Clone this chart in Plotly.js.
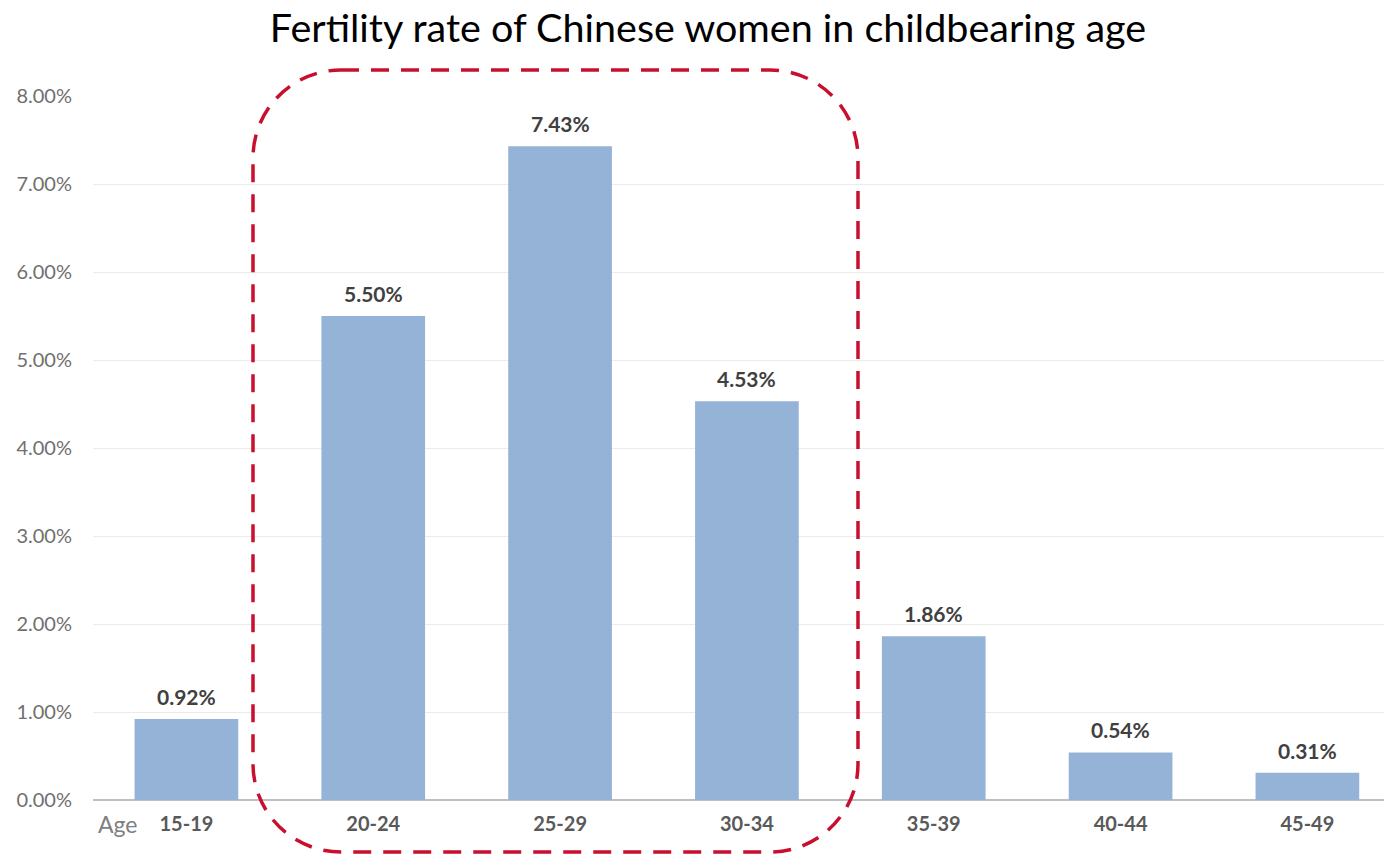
<!DOCTYPE html>
<html>
<head>
<meta charset="utf-8">
<script src="https://cdn.plot.ly/plotly-3.0.1.min.js"></script>
<style>html,body{margin:0;padding:0;background:#fff;}#chart{width:1384px;height:855px;}</style>
</head>
<body>
<div id="chart"></div>
<script>
const categories = ["15-19", "20-24", "25-29", "30-34", "35-39", "40-44", "45-49"];
const rates = [0.92, 5.50, 7.43, 4.53, 1.86, 0.54, 0.31];
const rateLabels = ["0.92%", "5.50%", "7.43%", "4.53%", "1.86%", "0.54%", "0.31%"];
const yTickVals = [0, 1, 2, 3, 4, 5, 6, 7, 8];
const yTickText = ["0.00%", "1.00%", "2.00%", "3.00%", "4.00%", "5.00%", "6.00%", "7.00%", "8.00%"];
const titleText = "Fertility rate of Chinese women in childbearing age";
const axisNote = "Age";

const W = 1384, H = 855;
const mL = 93, mR = 0, mT = 96, mB = 55;
const plotW = W - mL - mR, plotH = H - mT - mB;
const px2x = p => (p - mL) / plotW;
const px2y = p => (H - mB - p) / plotH;

// rounded dashed frame (pixel geometry converted to paper units)
function roundedRect(x0, y0, x1, y1, r) {
  const k = 0.5523 * r;
  const P = (x, y) => px2x(x).toFixed(5) + "," + px2y(y).toFixed(5);
  return "M" + P(x0 + r, y0) +
    " L" + P(x1 - r, y0) +
    " C" + P(x1 - r + k, y0) + " " + P(x1, y0 + r - k) + " " + P(x1, y0 + r) +
    " L" + P(x1, y1 - r) +
    " C" + P(x1, y1 - r + k) + " " + P(x1 - r + k, y1) + " " + P(x1 - r, y1) +
    " L" + P(x0 + r, y1) +
    " C" + P(x0 + r - k, y1) + " " + P(x0, y1 - r + k) + " " + P(x0, y1 - r) +
    " L" + P(x0, y0 + r) +
    " C" + P(x0, y0 + r - k) + " " + P(x0 + r - k, y0) + " " + P(x0 + r, y0) + " Z";
}

const font = "Lato, 'Open Sans', sans-serif";

const trace = {
  type: "bar",
  x: categories,
  y: rates,
  marker: {color: "#95B3D7", line: {width: 0}},
  width: 0.555,
  hoverinfo: "x+y"
};

const labelAnns = categories.map((c, i) => ({
  x: c, y: rates[i], xref: "x", yref: "y",
  text: "<b>" + rateLabels[i] + "</b>",
  showarrow: false, yanchor: "bottom", yshift: 8,
  font: {family: font, size: 21, color: "#404040"}
}));

const layout = {
  width: W, height: H,
  margin: {l: mL, r: mR, t: mT, b: mB, pad: 0},
  paper_bgcolor: "#ffffff",
  plot_bgcolor: "#ffffff",
  showlegend: false,
  title: {
    text: titleText,
    font: {family: font, size: 39.5, color: "#000000"},
    x: 708 / W, xref: "container", xanchor: "center",
    y: 1 - 28 / H, yref: "container", yanchor: "middle"
  },
  xaxis: {
    type: "category",
    range: [-0.5, 6.41],
    showgrid: false,
    zeroline: false,
    showline: false,
    ticks: "",
    tickfont: {family: font, size: 20, color: "#595959", weight: "bold"},
    ticklabelstandoff: 10,
    fixedrange: true
  },
  yaxis: {
    range: [0, 8],
    tickvals: yTickVals,
    ticktext: yTickText,
    showgrid: true,
    gridcolor: "#ebebeb",
    gridwidth: 1,
    zeroline: true,
    zerolinecolor: "#bfbfbf",
    zerolinewidth: 2,
    showline: false,
    ticks: "",
    ticklabelstandoff: 20,
    tickfont: {family: font, size: 20, color: "#6f6f6f"},
    fixedrange: true
  },
  annotations: labelAnns.concat([{
    x: px2x(96), y: px2y(824), xref: "paper", yref: "paper",
    xanchor: "left", yanchor: "middle",
    text: axisNote, showarrow: false,
    font: {family: font, size: 23, color: "#7f7f7f"}
  }]),
  shapes: [{
    type: "path",
    xref: "paper", yref: "paper",
    path: roundedRect(253, 70, 858, 852, 88),
    line: {color: "#C8102E", width: 3.5, dash: "18px,12px"},
    fillcolor: "rgba(0,0,0,0)",
    layer: "above"
  }]
};

Plotly.newPlot("chart", [trace], layout, {displayModeBar: false, staticPlot: true});
</script>
</body>
</html>
